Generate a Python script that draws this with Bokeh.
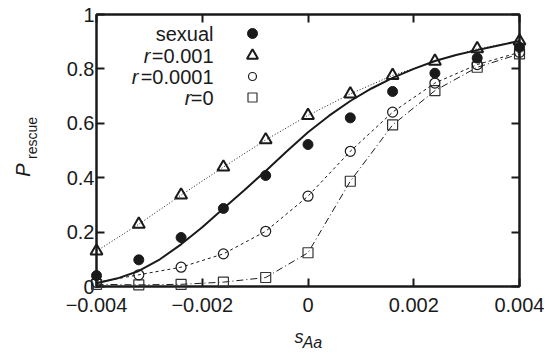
from bokeh.plotting import figure
from bokeh.models import (FixedTicker, CustomJSTickFormatter, LinearAxis, Label, Range1d)
from bokeh.embed import file_html
from bokeh.resources import INLINE

# ---- data ----
s_vals = [-0.004, -0.0032, -0.0024, -0.0016, -0.0008, 0.0, 0.0008, 0.0016, 0.0024, 0.0032, 0.004]
p_sexual = [0.040, 0.098, 0.180, 0.287, 0.408, 0.522, 0.620, 0.717, 0.784, 0.840, 0.880]
p_r001 = [0.130, 0.229, 0.336, 0.439, 0.539, 0.629, 0.708, 0.776, 0.828, 0.874, 0.902]
p_r0001 = [0.015, 0.043, 0.071, 0.120, 0.203, 0.332, 0.497, 0.641, 0.748, 0.816, 0.861]
p_r0 = [0.008, 0.006, 0.008, 0.016, 0.033, 0.124, 0.387, 0.594, 0.720, 0.806, 0.855]

theory_s = [-0.004, -0.0036, -0.0032, -0.0028, -0.0024, -0.002, -0.0016, -0.0012, -0.0008, -0.0004,
            0.0, 0.0004, 0.0008, 0.0012, 0.0016, 0.002, 0.0024, 0.0028, 0.0032, 0.0036, 0.004]
theory_p = [0.012, 0.030, 0.057, 0.100, 0.155, 0.218, 0.287, 0.355, 0.425, 0.497,
            0.567, 0.628, 0.682, 0.728, 0.767, 0.800, 0.829, 0.851, 0.869, 0.886, 0.903]

x_ticks = [-0.004, -0.002, 0.0, 0.002, 0.004]
y_ticks = [0.0, 0.2, 0.4, 0.6, 0.8, 1.0]
legend_labels = ["sexual", "=0.001", "=0.0001", "=0"]

FONT = "Liberation Sans"
INK = "#1a1a1a"
NB = "\u00a0"

# frame placement (page pixels)
FX0, FX1, FY0, FY1 = 96, 519, 14, 286
W, H = 544, 348

p = figure(width=W, height=H, output_backend="svg", toolbar_location=None,
           x_range=Range1d(-0.004, 0.004), y_range=Range1d(0, 1),
           frame_width=FX1 - FX0, frame_height=FY1 - FY0,
           min_border_left=FX0, min_border_right=W - FX1,
           min_border_top=FY0, min_border_bottom=H - FY1,
           x_axis_location=None, y_axis_location=None)
p.grid.visible = False
p.outline_line_color = INK
p.outline_line_width = 2
p.background_fill_color = "white"
p.border_fill_color = "white"

def dx(px):
    return -0.004 + (px - FX0) / (FX1 - FX0) * 0.008
def dy(py):
    return (FY1 - py) / (FY1 - FY0)

xfmt = CustomJSTickFormatter(code="""
if (Math.abs(tick) < 1e-12) return "0";
const s = Math.abs(tick).toFixed(3);
return tick < 0 ? "\\u2212" + s : s;
""")
yfmt = CustomJSTickFormatter(code="return (Math.round(tick*10)/10).toString();")
nofmt = CustomJSTickFormatter(code='return "";')

def style_axis(ax, labels=True):
    ax.axis_line_color = INK
    ax.axis_line_width = 2
    ax.major_tick_line_color = INK
    ax.major_tick_line_width = 2
    ax.major_tick_in = 8
    ax.major_tick_out = 0
    ax.minor_tick_line_color = None
    if labels:
        ax.major_label_text_font = FONT
        ax.major_label_text_font_size = "20px"
        ax.major_label_text_color = INK
    else:
        ax.major_label_text_font_size = "1px"
        ax.major_label_standoff = 0

bx = LinearAxis(ticker=FixedTicker(ticks=x_ticks), formatter=xfmt)
style_axis(bx)
bx.major_label_standoff = 11
p.add_layout(bx, "below")
ly = LinearAxis(ticker=FixedTicker(ticks=y_ticks), formatter=yfmt)
style_axis(ly)
ly.major_label_standoff = 2
p.add_layout(ly, "left")
tx = LinearAxis(ticker=FixedTicker(ticks=x_ticks), formatter=nofmt)
style_axis(tx, labels=False)
p.add_layout(tx, "above")
ry = LinearAxis(ticker=FixedTicker(ticks=y_ticks), formatter=nofmt)
style_axis(ry, labels=False)
p.add_layout(ry, "right")

# ---- axis titles: main letter + subscript via label-only axes ----
def title_axis(tick_pos, tick_text, sub_text, tick_size, sub_size, tick_style, sub_style):
    ax = LinearAxis(ticker=FixedTicker(ticks=[tick_pos]),
                    formatter=CustomJSTickFormatter(code=f'return "{tick_text}";'))
    ax.axis_line_color = None
    ax.major_tick_line_color = None
    ax.minor_tick_line_color = None
    ax.major_tick_in = 0
    ax.major_tick_out = 0
    ax.major_label_text_font = FONT
    ax.major_label_text_font_size = tick_size
    ax.major_label_text_font_style = tick_style
    ax.major_label_text_color = INK
    ax.axis_label = sub_text
    ax.axis_label_text_font = FONT
    ax.axis_label_text_font_size = sub_size
    ax.axis_label_text_font_style = sub_style
    ax.axis_label_text_color = INK
    return ax

# x title: "s" (tick label) with subscript "Aa" (axis label, nudged right by leading spaces)
xt = title_axis(dx(298.5), "s", NB * 2 + "Aa", "18px", "16px", "italic", "italic")
xt.major_label_standoff = 12
xt.axis_label_standoff = -16
p.add_layout(xt, "below")

# y title: "rescue" (tick label, closer to axis) and "P" (axis label, nudged down by trailing spaces)
yt = title_axis(dy(137.5), "rescue", "P" + NB * 7, "14px", "20px", "normal", "italic")
yt.major_label_orientation = "vertical"
yt.major_label_standoff = 24
yt.axis_label_standoff = -13
p.add_layout(yt, "left")

# ---- lines ----
p.line(theory_s, theory_p, line_color=INK, line_width=2)
p.line(s_vals, p_r001, line_color=INK, line_width=1, line_dash="1 2")
p.line(s_vals, p_r0001, line_color=INK, line_width=1, line_dash="3 3")
p.line(s_vals, p_r0, line_color=INK, line_width=1, line_dash="7 3 1 3")

# ---- markers ----
p.scatter(s_vals, p_r0, marker="square", size=10, fill_color=None, line_color="#333333",
          line_width=1.2, level="overlay")
p.scatter(s_vals, p_r0001, marker="circle", size=10, fill_color=None, line_color=INK,
          line_width=1.2, level="overlay")
p.scatter(s_vals, p_sexual, marker="circle", size=10, fill_color=INK, line_color=INK,
          line_width=1, level="overlay")
p.scatter(s_vals, p_r001, marker="triangle", size=12, fill_color=None, line_color=INK,
          line_width=2, level="overlay")

# ---- legend ----
rows = [33, 55, 76, 97]
mk = [("circle", INK, INK, 10, 1), ("triangle", None, INK, 11, 2),
      ("circle", None, INK, 8, 1.2), ("square", None, "#333333", 9, 1.2)]
widths = {"=0.001": 63, "=0.0001": 75, "=0": 22}
for i, (lab, ry_) in enumerate(zip(legend_labels, rows)):
    p.add_layout(Label(x=dx(213), y=dy(ry_), text=lab, text_align="right", text_baseline="middle",
                       text_font=FONT, text_font_size="20px", text_color=INK))
    if i > 0:
        p.add_layout(Label(x=dx(213 - widths[lab]), y=dy(ry_), text="r", text_align="right",
                           text_baseline="middle", text_font=FONT, text_font_size="20px",
                           text_font_style="italic", text_color=INK))
    m, fc, lc, sz, lw = mk[i]
    p.scatter([dx(252)], [dy(ry_)], marker=m, size=sz, fill_color=fc, line_color=lc,
              line_width=lw, level="overlay")

open("out.html", "w").write(file_html(p, INLINE))
